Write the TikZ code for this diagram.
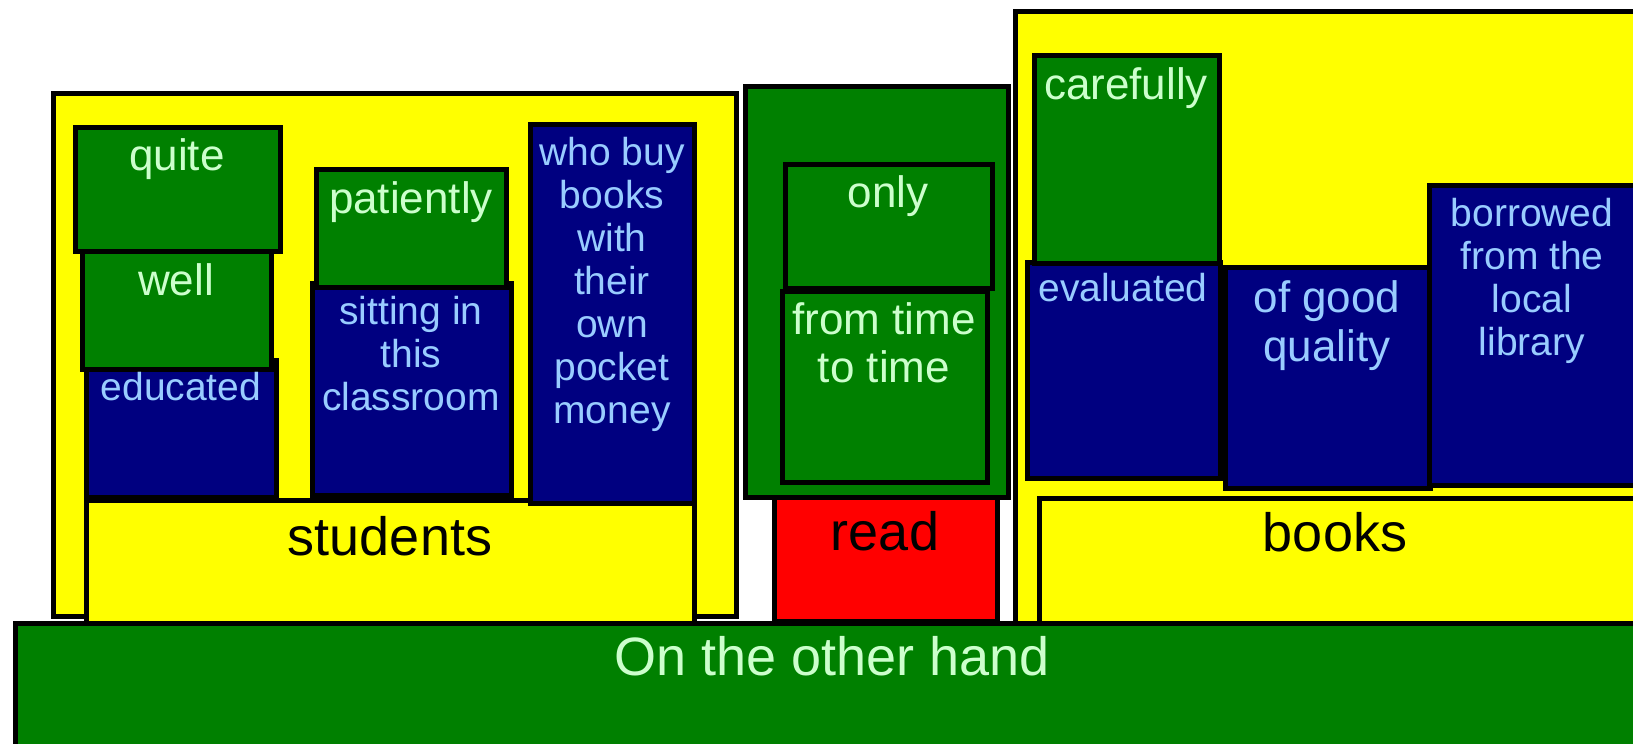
\documentclass[tikz,border=0pt]{standalone}
\usepackage{fontspec}
\setmainfont{Liberation Sans}
\usetikzlibrary{fit}
\definecolor{cyel}{HTML}{FFFF00}
\definecolor{cgrn}{HTML}{008000}
\definecolor{cnav}{HTML}{000080}
\definecolor{cred}{HTML}{FF0000}
\definecolor{tgrn}{HTML}{CCFFCC}
\definecolor{tnav}{HTML}{99CCFF}
\begin{document}
\begin{tikzpicture}[x=1pt,y=-1pt,
  bx/.style={draw=black,line width=5pt,inner sep=0pt,rectangle},
  ybx/.style={bx,fill=cyel},
  gbx/.style={bx,fill=cgrn},
  nbx/.style={bx,fill=cnav},
  rbx/.style={bx,fill=cred},
  gtx/.style={anchor=base,inner sep=0pt,align=center,text=tgrn,font=\fontsize{44}{48}\selectfont},
  ntx/.style={anchor=base,inner sep=0pt,align=center,text=tnav,font=\fontsize{39}{43}\selectfont},
  btx/.style={anchor=base,inner sep=0pt,align=center,text=black,font=\fontsize{54}{60}\selectfont}]
\useasboundingbox (0,0) rectangle (1633,744);
\clip (0,0) rectangle (1633,744);
% students group
\node[ybx,fit={(53,93) (736,616)}] (studOuter) {};
\node[ybx,fit={(86,500) (694,623)}] (students) {};
\node[nbx,fit={(86,360) (276,497)}] (educated) {};
\node[gbx,fit={(82,251) (271,369)}] (well) {};
\node[gbx,fit={(75,127) (280,251)}] (quite) {};
\node[nbx,fit={(312,283) (511,495)}] (sitting) {};
\node[gbx,fit={(316,169) (506,287)}] (patiently) {};
\node[nbx,fit={(530,124) (694,503)}] (whobuy) {};
% read group
\node[gbx,fit={(745,86) (1008,497)}] (readOuter) {};
\node[rbx,fit={(774,497) (997,621)}] (read) {};
\node[gbx,fit={(782,291) (987,482)}] (fromtime) {};
\node[gbx,fit={(785,164) (992,288)}] (only) {};
% books group
\node[ybx,fit={(1015,11) (1645,623)}] (booksOuter) {};
\node[ybx,fit={(1039,498) (1645,623)}] (books) {};
\node[nbx,fit={(1027,262) (1220,478)}] (evaluated) {};
\node[gbx,fit={(1034,55) (1219,263)}] (carefully) {};
\node[nbx,fit={(1225,267) (1430,488)}] (ofgood) {};
\node[nbx,fit={(1429,185) (1645,485)}] (borrowed) {};
% bottom
\node[gbx,fit={(15,623) (1650,760)}] (hand) {};
% texts (anchor = baseline of the last line)
\node[gtx] (tquite) at (177,170) {quite};
\node[gtx] (twell) at (176,295) {well};
\node[ntx] (teducated) at (181,400) {educated};
\node[gtx] (tpatiently) at (411,213) {patiently};
\node[ntx] (tsitting) at (411,410) {sitting in\\this\\classroom};
\node[ntx] (twhobuy) at (612,423) {who buy\\books\\with\\their\\own\\pocket\\money};
\node[btx] (tstudents) at (390,555) {students};
\node[gtx] (tonly) at (888,207) {only};
\node[gtx] (tfromtime) at (884,382) {from time\\to time};
\node[btx] (tread) at (885,550) {read};
\node[gtx] (tcarefully) at (1126,99) {carefully};
\node[ntx] (tevaluated) at (1123,301) {evaluated};
\node[gtx,text=tnav,font=\fontsize{44}{49}\selectfont] (tofgood) at (1327,361) {of good\\quality};
\node[ntx] (tborrowed) at (1532,355) {borrowed\\from the\\local\\library};
\node[btx] (tbooks) at (1335,551) {books};
\node[btx,text=tgrn] (thand) at (832,675) {On the other hand};
\end{tikzpicture}
\end{document}
